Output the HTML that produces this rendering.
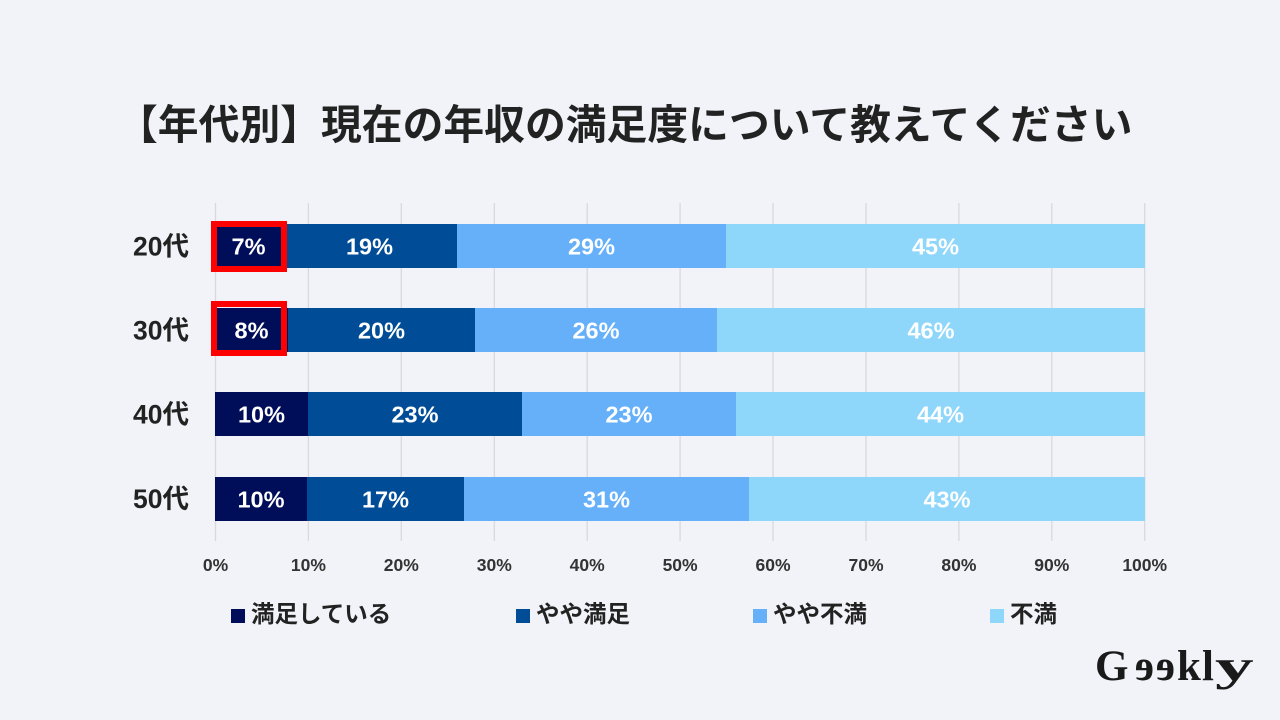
<!DOCTYPE html>
<html><head><meta charset="utf-8"><style>
html,body{margin:0;padding:0;background:#f2f3f8;}
svg{display:block;}
text{font-family:"Liberation Sans","Noto Sans CJK JP",sans-serif;}
.cjk{font-family:"Noto Sans CJK JP","Liberation Sans",sans-serif;}
</style></head><body>
<svg width="1280" height="720" viewBox="0 0 1280 720" xmlns="http://www.w3.org/2000/svg">
<rect width="1280" height="720" fill="#f2f3f8"/>
<text x="117" y="139" font-size="40.8" font-weight="bold" fill="#222" class="cjk">【年代別】現在の年収の満足度について教えてください</text>
<g stroke="#d9d9dc" stroke-width="1.3">
<line x1="215.5" y1="203" x2="215.5" y2="541"/>
<line x1="308.4" y1="203" x2="308.4" y2="541"/>
<line x1="401.3" y1="203" x2="401.3" y2="541"/>
<line x1="494.3" y1="203" x2="494.3" y2="541"/>
<line x1="587.2" y1="203" x2="587.2" y2="541"/>
<line x1="680.1" y1="203" x2="680.1" y2="541"/>
<line x1="773" y1="203" x2="773" y2="541"/>
<line x1="866" y1="203" x2="866" y2="541"/>
<line x1="958.9" y1="203" x2="958.9" y2="541"/>
<line x1="1051.8" y1="203" x2="1051.8" y2="541"/>
<line x1="1144.7" y1="203" x2="1144.7" y2="541"/>
</g>
<!-- 20代 -->
<rect x="215" y="224" width="67" height="44" fill="#000d59"/>
<rect x="282" y="224" width="175" height="44" fill="#004c97"/>
<rect x="457" y="224" width="269" height="44" fill="#65b0f9"/>
<rect x="726" y="224" width="419" height="44" fill="#8ed6fa"/>
<!-- 30代 -->
<rect x="215" y="308" width="73" height="44" fill="#000d59"/>
<rect x="288" y="308" width="187" height="44" fill="#004c97"/>
<rect x="475" y="308" width="242" height="44" fill="#65b0f9"/>
<rect x="717" y="308" width="428" height="44" fill="#8ed6fa"/>
<!-- 40代 -->
<rect x="215" y="392" width="93" height="44" fill="#000d59"/>
<rect x="308" y="392" width="214" height="44" fill="#004c97"/>
<rect x="522" y="392" width="214" height="44" fill="#65b0f9"/>
<rect x="736" y="392" width="409" height="44" fill="#8ed6fa"/>
<!-- 50代 -->
<rect x="215" y="477" width="92" height="44" fill="#000d59"/>
<rect x="307" y="477" width="157" height="44" fill="#004c97"/>
<rect x="464" y="477" width="285" height="44" fill="#65b0f9"/>
<rect x="749" y="477" width="396" height="44" fill="#8ed6fa"/>
<!-- red boxes -->
<rect x="214" y="224" width="70" height="45" fill="none" stroke="#ff0000" stroke-width="6"/>
<rect x="214" y="304" width="70" height="49" fill="none" stroke="#ff0000" stroke-width="6"/>
<!-- values -->
<g font-size="23.5" font-weight="bold" fill="#ffffff" text-anchor="middle">
<text x="248.5" y="254.5">7%</text>
<text x="369.5" y="254.5">19%</text>
<text x="591.5" y="254.5">29%</text>
<text x="935.5" y="254.5">45%</text>
<text x="251.5" y="338.5">8%</text>
<text x="381.5" y="338.5">20%</text>
<text x="596" y="338.5">26%</text>
<text x="931" y="338.5">46%</text>
<text x="261.5" y="422.5">10%</text>
<text x="415" y="422.5">23%</text>
<text x="629" y="422.5">23%</text>
<text x="940.5" y="422.5">44%</text>
<text x="261" y="507.5">10%</text>
<text x="385.5" y="507.5">17%</text>
<text x="606.5" y="507.5">31%</text>
<text x="947" y="507.5">43%</text>
</g>
<!-- category labels -->
<g font-size="26.5" font-weight="bold" fill="#222" text-anchor="end">
<text x="189" y="255.5">20代</text>
<text x="189" y="339.5">30代</text>
<text x="189" y="423.5">40代</text>
<text x="189" y="508">50代</text>
</g>
<!-- axis labels -->
<g font-size="17.5" font-weight="bold" fill="#333" text-anchor="middle">
<text x="215.5" y="571">0%</text>
<text x="308.4" y="571">10%</text>
<text x="401.3" y="571">20%</text>
<text x="494.3" y="571">30%</text>
<text x="587.2" y="571">40%</text>
<text x="680.1" y="571">50%</text>
<text x="773" y="571">60%</text>
<text x="866" y="571">70%</text>
<text x="958.9" y="571">80%</text>
<text x="1051.8" y="571">90%</text>
<text x="1144.7" y="571">100%</text>
</g>
<!-- legend -->
<rect x="231" y="609" width="14" height="14" fill="#000d59"/>
<rect x="516" y="609" width="14" height="14" fill="#004c97"/>
<rect x="753" y="609" width="14" height="14" fill="#65b0f9"/>
<rect x="990" y="609" width="14" height="14" fill="#8ed6fa"/>
<g font-size="23.5" font-weight="bold" fill="#222">
<text x="251" y="622" class="cjk">満足している</text>
<text x="536" y="622" class="cjk">やや満足</text>
<text x="773" y="622" class="cjk">やや不満</text>
<text x="1010" y="622" class="cjk">不満</text>
</g>
<!-- logo -->
<g font-weight="bold" font-size="43" fill="#1a1a1a">
<text x="1095" y="680" style="font-family:'Liberation Serif',serif">G</text>
<text transform="translate(1154,680) scale(-1,1)" style="font-family:'Liberation Serif',serif">e</text>
<text transform="translate(1175,680) scale(-1,1)" style="font-family:'Liberation Serif',serif">e</text>
<text x="1177" y="680" style="font-family:'Liberation Serif',serif">k</text>
<text x="1202" y="680" style="font-family:'Liberation Serif',serif">l</text>
<text x="1215" y="680" transform="translate(1215,0) scale(1.8,1) translate(-1215,0)" style="font-family:'Liberation Serif',serif">y</text>
</g>
</svg>
</body></html>
